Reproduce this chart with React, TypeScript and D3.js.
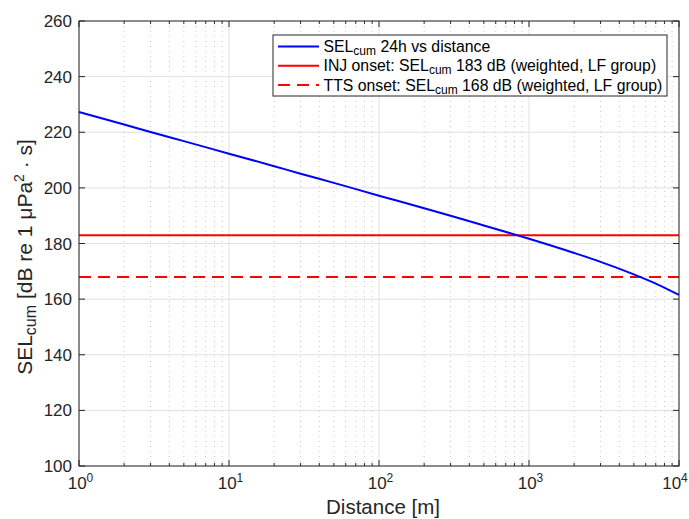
import React from "react";
import * as d3 from "d3";

const distances = [1, 2, 3, 5, 10, 20, 30, 50, 100, 200, 300, 500, 1000, 2000, 3000, 5000, 7000, 10000];
const selValues = [227.3, 222.8, 220.1, 216.8, 212.3, 207.8, 205.1, 201.8, 197.2, 192.7, 190.0, 186.5, 181.7, 176.6, 173.4, 168.9, 165.6, 161.5];
const injThreshold = 183;
const ttsThreshold = 168;
const yTicks = [100, 120, 140, 160, 180, 200, 220, 240, 260];
const xDecades = [0, 1, 2, 3, 4];

const W = 689, H = 519;
const M = { left: 79, right: 679, top: 21, bottom: 466 };
const FONT = "'Liberation Sans', Arial, Helvetica, sans-serif";
const AX = "#262626";

export default function App() {
  const x = d3.scaleLog().domain([1, 10000]).range([M.left, M.right]);
  const y = d3.scaleLinear().domain([100, 260]).range([M.bottom, M.top]);
  const line = d3.line<number>().x((d, i) => x(distances[i])).y((d) => y(d)).curve(d3.curveMonotoneX);
  const minor: number[] = [];
  for (let e = 0; e < 4; e++) for (let k = 2; k <= 9; k++) minor.push(k * Math.pow(10, e));
  const legX = 273, legY = 35, legW = 394, legH = 61;
  const rows = [
    { color: "#0000ff", dash: "", pre: "SEL", post: " 24h vs distance" },
    { color: "#ff0000", dash: "", pre: "INJ onset: SEL", post: " 183 dB (weighted, LF group)" },
    { color: "#ff0000", dash: "12 7", pre: "TTS onset: SEL", post: " 168 dB (weighted, LF group)" },
  ];
  return (
    <svg width={W} height={H} style={{ position: "absolute", left: 0, top: 0 }} fontFamily={FONT}>
      <rect x={0} y={0} width={W} height={H} fill="#fff" />
      {minor.map((m) => (
        <line key={"mg" + m} x1={x(m)} x2={x(m)} y1={M.top} y2={M.bottom} stroke="#c8c8c8" strokeWidth={1} strokeDasharray="1 4" />
      ))}
      {xDecades.map((e) => (
        <line key={"xg" + e} x1={x(Math.pow(10, e))} x2={x(Math.pow(10, e))} y1={M.top} y2={M.bottom} stroke="#e0e0e0" strokeWidth={1} />
      ))}
      {yTicks.map((t) => (
        <line key={"yg" + t} x1={M.left} x2={M.right} y1={y(t)} y2={y(t)} stroke="#e0e0e0" strokeWidth={1} />
      ))}
      <line x1={M.left} x2={M.right} y1={y(injThreshold)} y2={y(injThreshold)} stroke="#ff0000" strokeWidth={2} />
      <line x1={M.left} x2={M.right} y1={y(ttsThreshold)} y2={y(ttsThreshold)} stroke="#ff0000" strokeWidth={2} strokeDasharray="12 7" />
      <path d={line(selValues) || ""} fill="none" stroke="#0000ff" strokeWidth={2} />
      <rect x={M.left} y={M.top} width={M.right - M.left} height={M.bottom - M.top} fill="none" stroke={AX} strokeWidth={1} />
      {yTicks.map((t) => (
        <g key={"yt" + t}>
          <line x1={M.left} x2={M.left + 6} y1={y(t)} y2={y(t)} stroke={AX} />
          <line x1={M.right} x2={M.right - 6} y1={y(t)} y2={y(t)} stroke={AX} />
          <text x={M.left - 7} y={y(t)} dy="0.36em" textAnchor="end" fontSize={17} fill={AX}>{t}</text>
        </g>
      ))}
      {minor.map((m) => (
        <g key={"mt" + m}>
          <line x1={x(m)} x2={x(m)} y1={M.bottom} y2={M.bottom - 3} stroke={AX} />
          <line x1={x(m)} x2={x(m)} y1={M.top} y2={M.top + 3} stroke={AX} />
        </g>
      ))}
      {xDecades.map((e) => {
        const px = x(Math.pow(10, e));
        const cx = Math.min(px + 1.5, W - 14);
        return (
          <g key={"xt" + e}>
            <line x1={px} x2={px} y1={M.bottom} y2={M.bottom - 6} stroke={AX} />
            <line x1={px} x2={px} y1={M.top} y2={M.top + 6} stroke={AX} />
            <text x={cx} y={M.bottom + 23} textAnchor="middle" fontSize={17} fill={AX}>
              10<tspan fontSize={12} dy={-7}>{e}</tspan>
            </text>
          </g>
        );
      })}
      <text x={(M.left + M.right) / 2 + 4} y={514} textAnchor="middle" fontSize={20.5} fill={AX}>Distance [m]</text>
      <text transform={`translate(32, 257) rotate(-90)`} textAnchor="middle" fontSize={21} fill={AX}>
        SEL<tspan fontSize={16} dy={4}>cum</tspan><tspan dy={-4}> [dB re 1 μPa</tspan><tspan fontSize={14} dy={-8}>2</tspan><tspan dy={8}> · s]</tspan>
      </text>
      <rect x={legX} y={legY} width={legW} height={legH} fill="#fff" stroke={AX} strokeWidth={1} />
      {rows.map((r, i) => {
        const ry = legY + 11.5 + i * 19.2;
        return (
          <g key={"lg" + i}>
            <line x1={legX + 5} x2={legX + 46} y1={ry} y2={ry} stroke={r.color} strokeWidth={2} strokeDasharray={r.dash} />
            <text x={legX + 50.5} y={ry} dy="0.36em" fontSize={15.8} fill="#000">
              {r.pre}<tspan fontSize={12} dy={3}>cum</tspan><tspan dy={-3}>{r.post}</tspan>
            </text>
          </g>
        );
      })}
    </svg>
  );
}
